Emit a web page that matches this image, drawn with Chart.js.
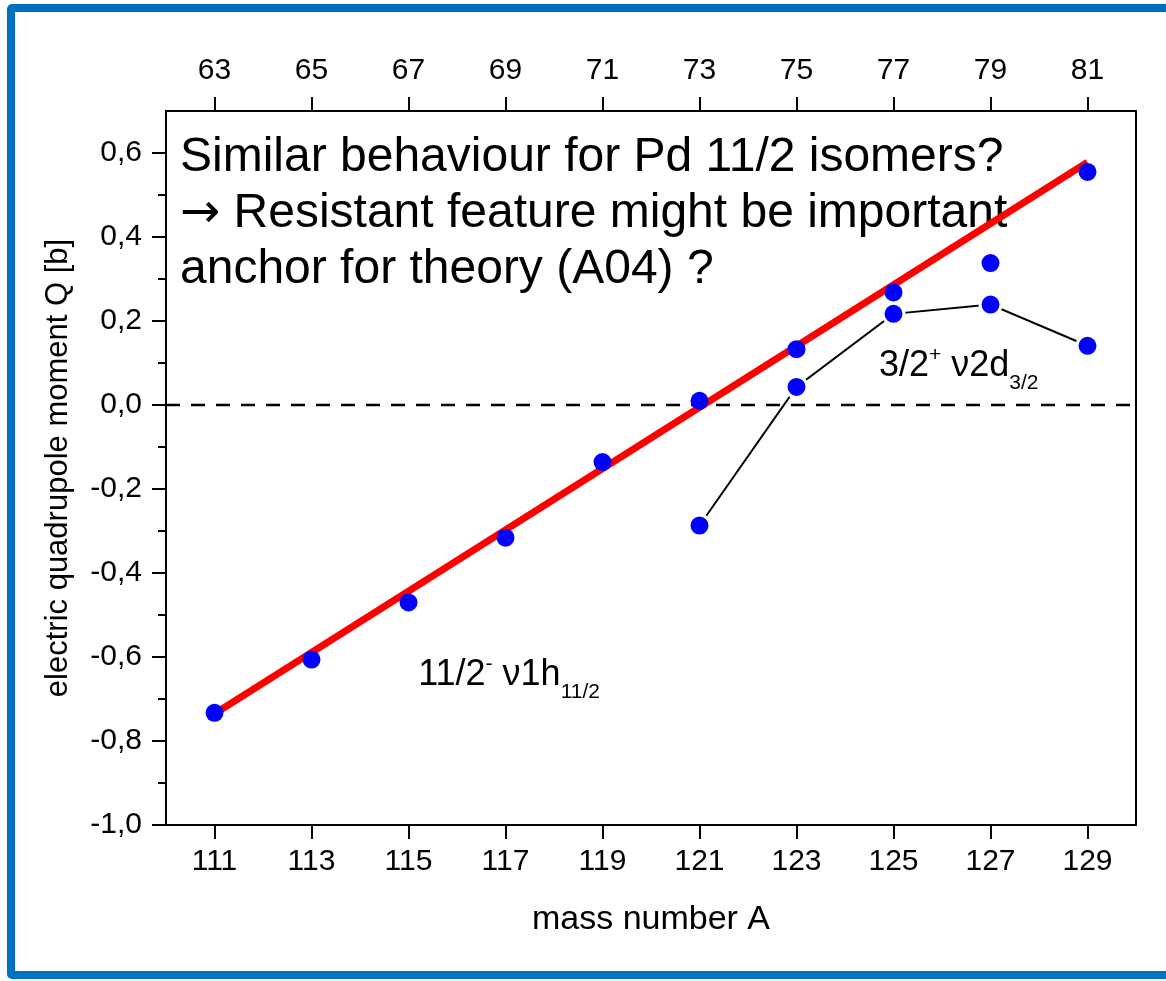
<!DOCTYPE html>
<html>
<head>
<meta charset="utf-8">
<title>Quadrupole moments</title>
<script src="https://cdn.jsdelivr.net/npm/chart.js@4.4.1/dist/chart.umd.min.js"></script>
<style>
    html, body { margin: 0; padding: 0; background: #fff; overflow: hidden; }
    #slideFrame {
        position: absolute; left: 7px; top: 4px;
        width: 1200px; height: 959px;
        border: 8px solid #0070C0; border-radius: 5px;
    }
    #quadrupoleChart { position: absolute; left: 0; top: 0; }
</style>
</head>
<body>
<div id="slideFrame"></div>
<canvas id="quadrupoleChart" width="1166" height="981"></canvas>
<script>
// Data
const massNumbers = [111, 113, 115, 117, 119, 121, 123, 125, 127, 129];
const neutronLabels = ['63', '65', '67', '69', '71', '73', '75', '77', '79', '81'];
const qIsomer112 = [-0.733, -0.606, -0.470, -0.316, -0.136, 0.010, 0.133, 0.268, 0.338, 0.555];
const massGround32 = [121, 123, 125, 127, 129];
const qGround32 = [-0.287, 0.043, 0.217, 0.239, 0.141];
const trendMass = [111, 129];
const trendQ = [-0.735, 0.578];

const FONT = '"Liberation Sans", Arial, sans-serif';

function toPoints(xs, ys) {
    return xs.map((x, i) => ({ x: x, y: ys[i] }));
}

function formatComma(v) {
    const s = v.toFixed(1).replace('.', ',');
    return s === '-0,0' ? '0,0' : s;
}

// draws text with superscript / subscript pieces
function drawRich(ctx, x, y, parts, size) {
    let cx = x;
    parts.forEach(p => {
        let fs = size, dy = 0;
        if (p.sup) { fs = Math.round(size * 0.58); dy = -15; }
        if (p.sub) { fs = Math.round(size * 0.58); dy = 13; }
        ctx.font = fs + 'px ' + (p.family || FONT);
        ctx.fillText(p.t, cx, y + dy);
        cx += ctx.measureText(p.t).width;
    });
}

const decorPlugin = {
    id: 'decor',
    beforeDatasetsDraw(chart) {
        const ctx = chart.ctx;
        const area = chart.chartArea;
        const y = chart.scales.y;
        ctx.save();
        // zero line
        ctx.strokeStyle = '#000';
        ctx.lineWidth = 2.5;
        ctx.setLineDash([14, 11]);
        ctx.beginPath();
        ctx.moveTo(area.left, y.getPixelForValue(0));
        ctx.lineTo(area.right, y.getPixelForValue(0));
        ctx.stroke();
        ctx.setLineDash([]);

        // note text
        ctx.fillStyle = '#000';
        ctx.textAlign = 'left';
        ctx.textBaseline = 'alphabetic';
        const left = area.left + 14;
        drawRich(ctx, left, area.top + 60, [{ t: 'Similar behaviour for Pd 11/2 isomers?' }], 48);
        drawRich(ctx, left, area.top + 116, [
            { t: '\u2192', family: '"DejaVu Sans", sans-serif' },
            { t: ' Resistant feature might be important' }
        ], 48);
        drawRich(ctx, left, area.top + 172, [{ t: 'anchor for theory (A04) ?' }], 48);
        ctx.restore();
    },
    afterDatasetsDraw(chart) {
        const ctx = chart.ctx;
        const area = chart.chartArea;
        const x = chart.scales.x;
        const y = chart.scales.y;
        ctx.save();
        ctx.strokeStyle = '#000';
        ctx.lineWidth = 2;
        ctx.strokeRect(area.left, area.top, area.right - area.left, area.bottom - area.top);

        // minor ticks on y
        ctx.beginPath();
        for (let v = -0.9; v < 0.6; v += 0.2) {
            const py = Math.round(y.getPixelForValue(v));
            ctx.moveTo(area.left - 8, py);
            ctx.lineTo(area.left, py);
        }
        ctx.stroke();

        // state labels
        ctx.fillStyle = '#000';
        ctx.textAlign = 'left';
        ctx.textBaseline = 'alphabetic';
        drawRich(ctx, x.getPixelForValue(115.2), y.getPixelForValue(-0.667), [
            { t: '11/2' }, { t: '-', sup: true }, { t: ' \u03bd1h' }, { t: '11/2', sub: true }
        ], 36);
        drawRich(ctx, x.getPixelForValue(124.7), y.getPixelForValue(0.069), [
            { t: '3/2' }, { t: '+', sup: true }, { t: ' \u03bd2d' }, { t: '3/2', sub: true }
        ], 36);
        ctx.restore();
    }
};

const tickFont = { family: FONT, size: 30 };
const axisGrid = { drawOnChartArea: false, tickLength: 14, color: '#000', lineWidth: 2 };
const axisBorder = { color: '#000', width: 2 };

new Chart(document.getElementById('quadrupoleChart'), {
    type: 'scatter',
    data: {
        datasets: [
            {
                label: '11/2- nu1h11/2',
                data: toPoints(massNumbers, qIsomer112),
                showLine: false,
                pointRadius: 9,
                pointBorderWidth: 0,
                pointBackgroundColor: '#0000FF',
                pointBorderColor: '#0000FF'
            },
            {
                label: 'trend',
                data: toPoints(trendMass, trendQ),
                showLine: true,
                borderColor: '#FF0000',
                borderWidth: 7,
                pointRadius: 0
            },
            {
                label: '3/2+ nu2d3/2',
                data: toPoints(massGround32, qGround32),
                showLine: true,
                borderColor: '#000',
                borderWidth: 2,
                pointRadius: 10.5,
                pointBorderWidth: 3,
                pointBackgroundColor: '#0000FF',
                pointBorderColor: '#FFFFFF'
            }
        ]
    },
    options: {
        responsive: false,
        animation: false,
        layout: { padding: { left: 0, right: 30, top: 0, bottom: 0 } },
        plugins: {
            legend: { display: false },
            tooltip: { enabled: false }
        },
        scales: {
            x: {
                type: 'linear',
                position: 'bottom',
                min: 110,
                max: 130,
                afterBuildTicks: s => { s.ticks = massNumbers.map(v => ({ value: v })); },
                afterFit: s => { s.height = 156; },
                ticks: {
                    color: '#000', font: tickFont, padding: 5,
                    maxRotation: 0, autoSkip: false,
                    callback: v => String(v)
                },
                grid: axisGrid,
                border: axisBorder,
                title: {
                    display: true, text: 'mass number A', color: '#000',
                    font: { family: FONT, size: 34 }, padding: { top: 0, bottom: 41 }
                }
            },
            x2: {
                type: 'linear',
                position: 'top',
                min: 110,
                max: 130,
                afterBuildTicks: s => { s.ticks = massNumbers.map(v => ({ value: v })); },
                afterFit: s => { s.height = 111; },
                ticks: {
                    color: '#000', font: tickFont, padding: 8,
                    maxRotation: 0, autoSkip: false,
                    callback: (v, i) => neutronLabels[i]
                },
                grid: axisGrid,
                border: axisBorder
            },
            y: {
                min: -1,
                max: 0.7,
                afterFit: s => { s.width = 166; },
                ticks: {
                    stepSize: 0.2, includeBounds: false,
                    color: '#000', font: tickFont, padding: 10,
                    callback: v => formatComma(v)
                },
                grid: axisGrid,
                border: axisBorder,
                title: {
                    display: true, text: 'electric quadrupole moment Q [b]', color: '#000',
                    font: { family: FONT, size: 31 }, padding: { top: 40, bottom: 0 }
                }
            }
        }
    },
    plugins: [decorPlugin]
});
</script>
</body>
</html>
